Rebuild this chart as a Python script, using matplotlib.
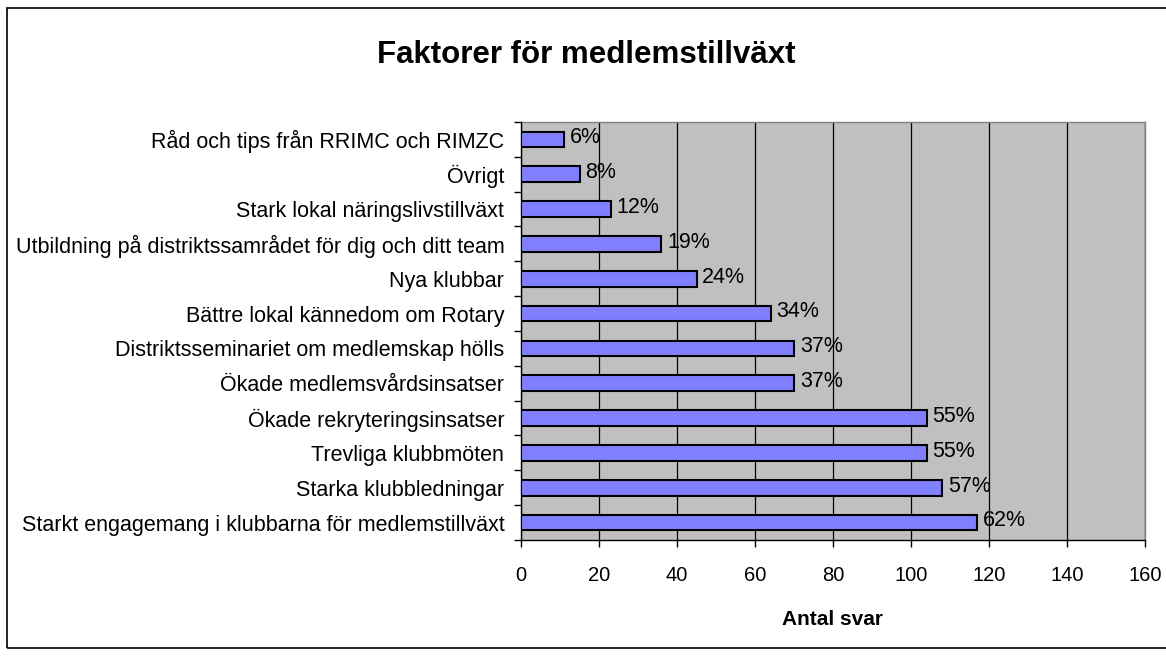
import numpy as np
import matplotlib.pyplot as plt
from matplotlib.patches import Rectangle

plt.rcParams['font.family'] = ['Liberation Sans', 'DejaVu Sans']

# Données (de bas en haut)
kategorier = [
    "Starkt engagemang i klubbarna för medlemstillväxt",
    "Starka klubbledningar",
    "Trevliga klubbmöten",
    "Ökade rekryteringsinsatser",
    "Ökade medlemsvårdsinsatser",
    "Distriktsseminariet om medlemskap hölls",
    "Bättre lokal kännedom om Rotary",
    "Nya klubbar",
    "Utbildning på distriktssamrådet för dig och ditt team",
    "Stark lokal näringslivstillväxt",
    "Övrigt",
    "Råd och tips från RRIMC och RIMZC",
]
antal = [117, 108, 104, 104, 70, 70, 64, 45, 36, 23, 15, 11]
procent = ["62%", "57%", "55%", "55%", "37%", "37%", "34%", "24%", "19%", "12%", "8%", "6%"]
xticks = [0, 20, 40, 60, 80, 100, 120, 140, 160]

W, H = 1166, 656
fig = plt.figure(figsize=(W / 100, H / 100), dpi=100)
fig.patch.set_facecolor('white')

# cadre extérieur (le bord droit sort de l'image)
fig.patches.append(Rectangle((7 / W, 1 - 648 / H), (W + 20) / W, (648 - 8) / H,
                             transform=fig.transFigure, fill=False,
                             edgecolor='black', linewidth=1.2))

ax = fig.add_axes([521 / W, 1 - 540 / H, (1145 - 521) / W, (540 - 122) / H])
ax.set_facecolor('#C0C0C0')

fs = 15.5
y = np.arange(len(kategorier))
ax.barh(y, antal, height=0.45, color='#8080FF', edgecolor='black', linewidth=1.5, zorder=3)

for yi, v, p in zip(y, antal, procent):
    ax.text(v + 1.5, yi + 0.05, p, va='center', ha='left', fontsize=fs, zorder=4)

ax.set_xlim(0, 160)
ax.set_ylim(-0.5, len(kategorier) - 0.5)
ax.set_xticks(xticks)
ax.set_xticklabels([str(t) for t in xticks], fontsize=14.5)
ax.set_yticks(y)
ax.set_yticklabels(kategorier, fontsize=fs)
ax.tick_params(axis='y', length=0, pad=12)
ax.set_yticks(np.arange(-0.5, len(kategorier), 1), minor=True)
ax.tick_params(axis='y', which='minor', length=5, width=1, direction='out')
ax.tick_params(axis='x', length=5, width=1, direction='out', pad=14)

ax.grid(axis='x', color='black', linewidth=0.9, zorder=1)
ax.set_axisbelow(True)
for s in ['top', 'right']:
    ax.spines[s].set_visible(False)
ax.spines['left'].set_linewidth(1)
ax.spines['bottom'].set_linewidth(1)
# bordure grise du fond
ax.plot([1, 1], [0, 1], transform=ax.transAxes, color='#808080', linewidth=1, clip_on=False)
ax.plot([0, 1], [1, 1], transform=ax.transAxes, color='#808080', linewidth=1, clip_on=False)

ax.set_xlabel("Antal svar", fontsize=15, fontweight='bold', labelpad=18)
fig.text(0.5 * (7 + W) / W, 1 - 55 / H, "Faktorer för medlemstillväxt",
         ha='center', va='center', fontsize=22.5, fontweight='bold')

fig.savefig('out.png', dpi=100)
